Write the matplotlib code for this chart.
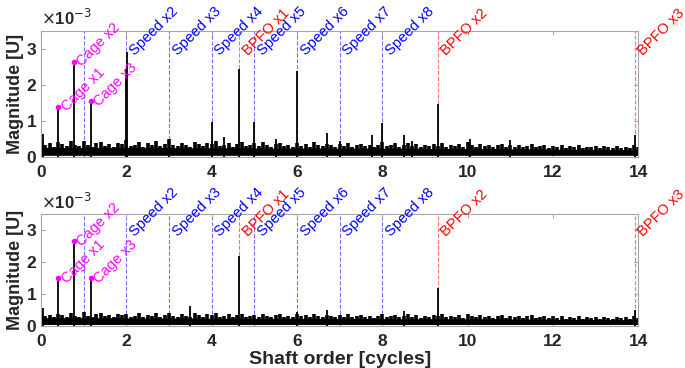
import numpy as np
import matplotlib
matplotlib.use("Agg")
import matplotlib.pyplot as plt

plt.rcParams['font.family'] = ['Liberation Sans', 'DejaVu Sans']

# magnitudes are in units of 1e-3 [U]
order_step = 0.1
top_noise = [
    0.45, 0.33, 0.38, 0.29, 0.41, 0.36, 0.31, 0.44, 0.35, 0.30,
    0.46, 0.34, 0.29, 0.39, 0.43, 0.32, 0.36, 0.28, 0.40, 0.37,
    0.48, 0.31, 0.35, 0.42, 0.29, 0.38, 0.33, 0.44, 0.30, 0.36,
    0.50, 0.34, 0.30, 0.39, 0.35, 0.28, 0.43, 0.37, 0.31, 0.40,
    0.36, 0.45, 0.30, 0.34, 0.40, 0.29, 0.37, 0.42, 0.31, 0.35,
    0.38, 0.30, 0.42, 0.33, 0.29, 0.36, 0.40, 0.31, 0.35, 0.28,
    0.39, 0.32, 0.36, 0.29, 0.41, 0.34, 0.30, 0.37, 0.33, 0.28,
    0.36, 0.31, 0.40, 0.29, 0.34, 0.37, 0.30, 0.35, 0.28, 0.33,
    0.42, 0.30, 0.35, 0.38, 0.29, 0.33, 0.39, 0.31, 0.36, 0.28,
    0.34, 0.30, 0.37, 0.32, 0.40, 0.29, 0.35, 0.31, 0.37, 0.28,
    0.41, 0.33, 0.29, 0.37, 0.31, 0.35, 0.28, 0.34, 0.36, 0.27,
    0.33, 0.29, 0.35, 0.27, 0.32, 0.36, 0.28, 0.31, 0.34, 0.26,
    0.32, 0.27, 0.34, 0.25, 0.30, 0.28, 0.33, 0.25, 0.29, 0.27,
    0.30, 0.25, 0.31, 0.27, 0.24, 0.30, 0.26, 0.29, 0.25, 0.33,
    0.28]
bot_noise = [
    0.42, 0.31, 0.36, 0.28, 0.39, 0.34, 0.29, 0.41, 0.33, 0.28,
    0.43, 0.32, 0.27, 0.37, 0.40, 0.30, 0.34, 0.27, 0.38, 0.35,
    0.39, 0.29, 0.33, 0.40, 0.27, 0.36, 0.31, 0.41, 0.28, 0.34,
    0.40, 0.32, 0.28, 0.37, 0.33, 0.27, 0.41, 0.35, 0.29, 0.37,
    0.34, 0.41, 0.28, 0.32, 0.38, 0.27, 0.35, 0.39, 0.29, 0.33,
    0.36, 0.28, 0.39, 0.31, 0.27, 0.34, 0.37, 0.29, 0.33, 0.27,
    0.37, 0.30, 0.34, 0.27, 0.38, 0.32, 0.28, 0.35, 0.31, 0.27,
    0.34, 0.29, 0.37, 0.27, 0.32, 0.35, 0.28, 0.33, 0.26, 0.31,
    0.38, 0.28, 0.33, 0.36, 0.27, 0.31, 0.37, 0.29, 0.34, 0.26,
    0.32, 0.28, 0.35, 0.30, 0.38, 0.27, 0.33, 0.29, 0.35, 0.26,
    0.39, 0.31, 0.27, 0.35, 0.29, 0.33, 0.26, 0.32, 0.34, 0.25,
    0.31, 0.27, 0.33, 0.25, 0.30, 0.34, 0.26, 0.29, 0.32, 0.24,
    0.30, 0.25, 0.32, 0.23, 0.28, 0.26, 0.31, 0.23, 0.27, 0.25,
    0.28, 0.23, 0.29, 0.25, 0.22, 0.28, 0.24, 0.27, 0.23, 0.31,
    0.26]
# solid part of the noise band, one value per unit of shaft order (0..14)
top_band = [0.27, 0.27, 0.27, 0.26, 0.26, 0.25, 0.25, 0.25, 0.25, 0.24,
            0.24, 0.23, 0.22, 0.21, 0.21]
bot_band = [0.26, 0.26, 0.25, 0.25, 0.24, 0.24, 0.24, 0.24, 0.23, 0.23,
            0.23, 0.22, 0.21, 0.20, 0.20]
noise_floor = 0.05

top_peak_x = [0.05, 0.40, 0.77, 1.17, 1.98, 2.02, 3.00, 4.00, 4.30, 4.65, 5.00,
              5.50, 6.00, 6.70, 7.00, 7.75, 8.00, 8.50, 8.70, 9.30, 10.05, 11.0, 13.92]
top_peak_y = [0.65, 1.40, 2.65, 1.55, 2.45, 2.92, 0.50, 0.98, 0.55, 2.44, 0.97,
              0.50, 2.39, 0.66, 0.45, 0.62, 0.94, 0.60, 0.45, 1.47, 0.50, 0.48, 0.60]
bot_peak_x = [0.05, 0.40, 0.77, 1.17, 3.50, 4.65, 6.00, 6.70, 8.50, 9.30, 13.92]
bot_peak_y = [0.55, 1.50, 2.65, 1.50, 0.62, 2.19, 0.45, 0.50, 0.48, 1.19, 0.50]

cage_x = [0.40, 0.77, 1.17]
cage_labels = ["Cage x1", "Cage x2", "Cage x3"]
top_cage_y = [1.40, 2.65, 1.55]
bot_cage_y = [1.50, 2.65, 1.50]

speed_x = [1, 2, 3, 4, 5, 6, 7, 8]
speed_labels = ["", "Speed x2", "Speed x3", "Speed x4", "Speed x5",
                "Speed x6", "Speed x7", "Speed x8"]
bpfo_x = [4.65, 9.30, 13.92]
bpfo_labels = ["BPFO x1", "BPFO x2", "BPFO x3"]

label_y = 2.95
magenta = "#ff00ff"
spine_col = "#a6a6a6"
text_col = "#262626"
ann_size = 10.5
ann_kw = dict(fontsize=ann_size, rotation=45, rotation_mode="anchor",
              ha="left", va="center", textcoords="offset points",
              xytext=(4, -2), annotation_clip=False)

fig = plt.figure(figsize=(6.85, 3.68), dpi=100)
ax1 = fig.add_axes([0.0599, 0.573, 0.872, 0.343])
ax2 = fig.add_axes([0.0599, 0.114, 0.872, 0.304])

panels = [(ax1, top_noise, top_band, top_peak_x, top_peak_y, top_cage_y),
          (ax2, bot_noise, bot_band, bot_peak_x, bot_peak_y, bot_cage_y)]

for ax, noise, band, px, py, cy in panels:
    order = np.arange(len(noise)) * order_step
    band_pts = np.repeat(band, 10)[:len(noise)]
    band_pts = np.append(band_pts, band[-1])[:len(noise)]
    for sx in speed_x:
        ax.axvline(sx, color="#0000ff", ls="--", lw=0.8, alpha=0.55, zorder=1)
    for bx in bpfo_x:
        ax.axvline(bx, color="#ff0000", ls="--", lw=0.8, alpha=0.55, zorder=1)
    ax.fill_between(order, noise_floor, band_pts, color="black", lw=0, zorder=2)
    ax.vlines(order, noise_floor, noise, color="black", lw=2.6, zorder=2)
    ax.vlines(px, 0, py, color="black", lw=1.3, zorder=3)
    ax.plot(cage_x, cy, "o", color=magenta, ms=3, zorder=4)

    for x, y, lab in zip(cage_x, cy, cage_labels):
        ax.annotate(lab, (x, y), color=magenta, **ann_kw)
    for x, lab in zip(speed_x, speed_labels):
        if lab:
            ax.annotate(lab, (x, label_y), color="#0000ff", **ann_kw)
    for x, lab in zip(bpfo_x, bpfo_labels):
        ax.annotate(lab, (x, label_y), color="#ff0000", **ann_kw)

    ax.set_xlim(0, 14)
    ax.set_ylim(0, 3.5)
    ax.set_xticks(np.arange(0, 15, 2))
    ax.set_yticks([0, 1, 2, 3])
    ax.tick_params(direction="in", length=3, color=spine_col, labelsize=12.5,
                   labelcolor=text_col, top=True, right=True)
    ax.tick_params(axis="x", pad=6)
    for t in ax.get_xticklabels() + ax.get_yticklabels():
        t.set_fontweight("bold")
    for s in ax.spines.values():
        s.set_color(spine_col)
        s.set_linewidth(0.8)
    ax.set_ylabel("Magnitude [U]", fontsize=13, fontweight="bold",
                  color=text_col, labelpad=2)
    ax.text(0.0, 1.02, r"$\times$10$^{-3}$", transform=ax.transAxes,
            fontsize=12, fontweight="bold", color=text_col, ha="left", va="bottom")

ax2.set_xlabel("Shaft order [cycles]", fontsize=14, fontweight="bold",
               color=text_col, labelpad=1)

fig.savefig("out.png", dpi=100)
